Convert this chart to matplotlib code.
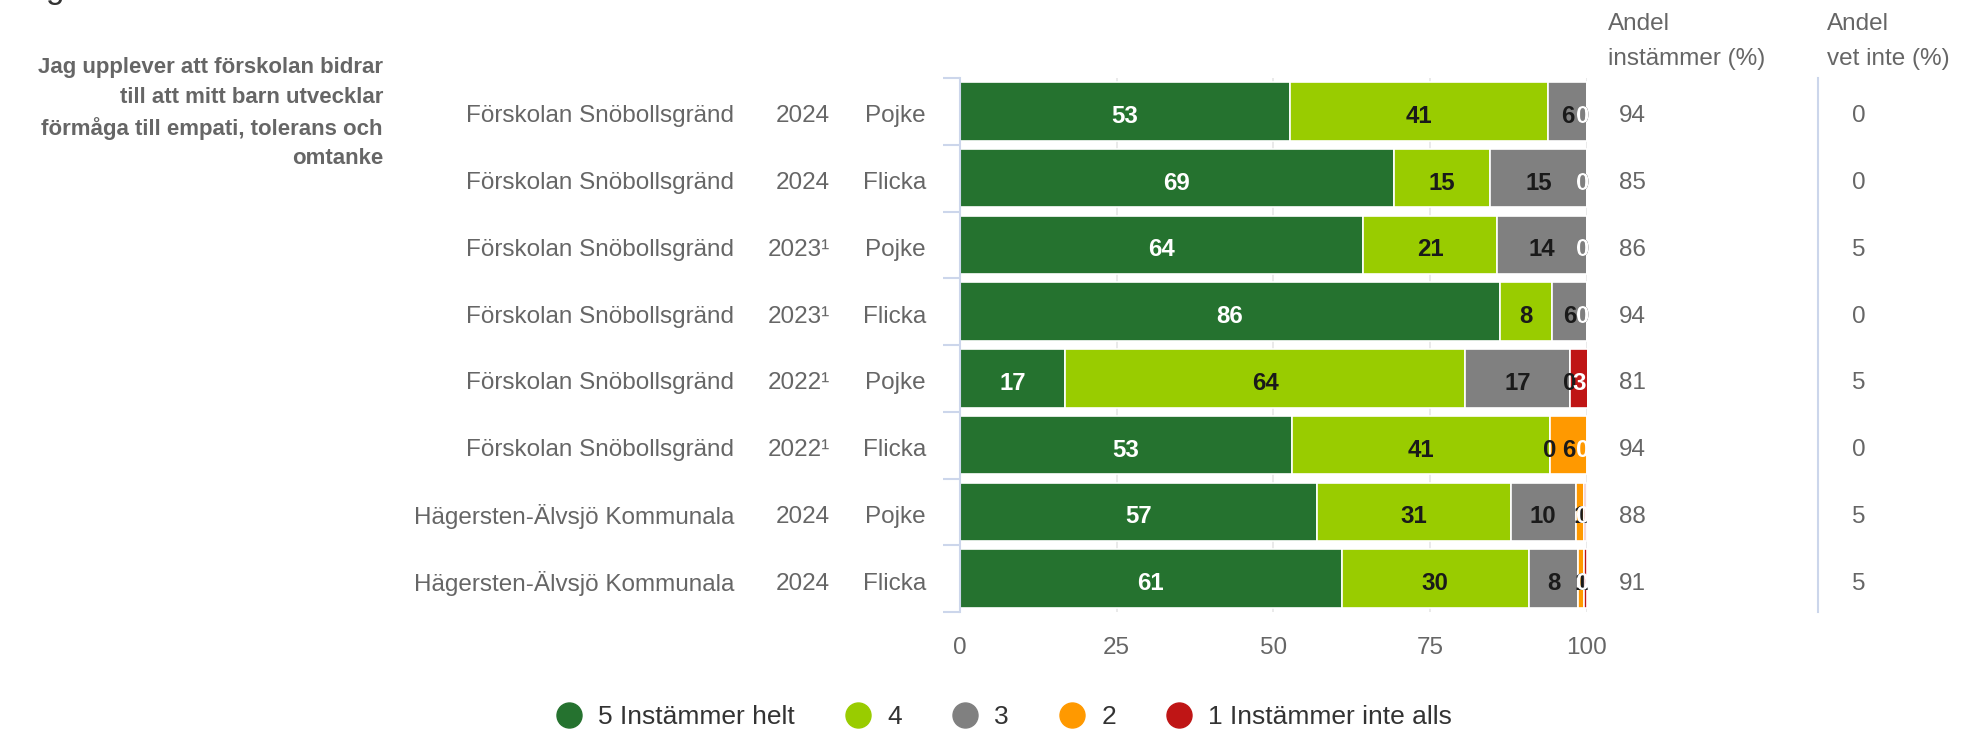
import matplotlib
matplotlib.use("Agg")
import matplotlib.pyplot as plt
import numpy as np
from matplotlib.lines import Line2D
from matplotlib.transforms import blended_transform_factory

plt.rcParams["font.family"] = ["Liberation Sans", "DejaVu Sans"]

# Data
question = "Jag upplever att förskolan bidrar\ntill att mitt barn utvecklar\nförmåga till empati, tolerans och\nomtanke"
units = ["Förskolan Snöbollsgränd"] * 6 + ["Hägersten-Älvsjö Kommunala"] * 2
years = ["2024", "2024", "2023¹", "2023¹", "2022¹", "2022¹", "2024", "2024"]
genders = ["Pojke", "Flicka"] * 4

series_names = ["5 Instämmer helt", "4", "3", "2", "1 Instämmer inte alls"]
s5 = [52.6, 69.2, 64.3, 86.1, 16.7, 52.9, 56.9, 60.9]
s4 = [41.2, 15.4, 21.4, 8.3, 63.9, 41.2, 30.9, 29.8]
s3 = [6.2, 15.4, 14.3, 5.6, 16.7, 0, 10.4, 7.9]
s2 = [0, 0, 0, 0, 0, 5.9, 1.3, 1.0]
s1 = [0, 0, 0, 0, 2.8, 0, 0.4, 0.4]

andel_instammer = [94, 85, 86, 94, 81, 94, 88, 91]
andel_vet_inte = [0, 0, 5, 0, 5, 0, 5, 5]

xticks = [0, 25, 50, 75, 100]

# Styles
colors = ["#25722f", "#99cc00", "#808080", "#ff9900", "#bf1515"]
label_colors = ["white", "#1a1a1a", "#1a1a1a", "#1a1a1a", "white"]
grey_text = "#666666"
axis_blue = "#ccd6eb"
fs = 17.5
dy = 0.075  # small downward shift so text sits like the reference

W, H = 1965, 732
fig = plt.figure(figsize=(W / 100, H / 100), dpi=100)

ax_left, ax_right = 960 / W, 1587 / W
ax_top, ax_bottom = 1 - 78 / H, 1 - 612 / H
ax = fig.add_axes([ax_left, ax_bottom, ax_right - ax_left, ax_top - ax_bottom])

y = np.arange(len(units))
left = np.zeros(len(units))
for vals, c, tc in zip([s5, s4, s3, s2, s1], colors, label_colors):
    vals = np.array(vals, dtype=float)
    ax.barh(y, vals, left=left, height=0.88, color=c, edgecolor="white",
            linewidth=1.2, zorder=2)
    for yi, l, v in zip(y, left, vals):
        xc = min(l + v / 2, 99.3)
        ax.text(xc, yi + dy, f"{v:.0f}", ha="center", va="center", color=tc,
                fontsize=17.3, fontweight="bold", zorder=4)
    left += vals

ax.set_xlim(0, 100)
ax.set_ylim(len(units) - 0.5, -0.5)
ax.set_xticks(xticks)
ax.set_xticklabels([str(t) for t in xticks])
ax.tick_params(axis="x", length=0, pad=18, labelsize=fs, labelcolor=grey_text)
ax.set_yticks(np.arange(-0.5, len(units), 1))
ax.set_yticklabels([])
ax.tick_params(axis="y", length=12, width=1.5, color=axis_blue)
ax.xaxis.grid(True, color="#e6e6e6", linewidth=1.2, zorder=0)
ax.set_axisbelow(True)
for side in ["top", "right", "bottom"]:
    ax.spines[side].set_visible(False)
ax.spines["left"].set_color(axis_blue)
ax.spines["left"].set_linewidth(1.5)

# Row labels
tr = blended_transform_factory(fig.transFigure, ax.transData)
for yi, u, yr, g in zip(y, units, years, genders):
    fig.text(734 / W, yi + dy, u, transform=tr, ha="right", va="center",
             fontsize=fs, color=grey_text)
    fig.text(830 / W, yi + dy, yr, transform=tr, ha="right", va="center",
             fontsize=fs, color=grey_text)
    fig.text(926 / W, yi + dy, g, transform=tr, ha="right", va="center",
             fontsize=fs, color=grey_text)

# Right-hand columns
for yi, a, v in zip(y, andel_instammer, andel_vet_inte):
    fig.text(1619 / W, yi + dy, str(a), transform=tr, ha="left", va="center",
             fontsize=fs, color=grey_text)
    fig.text(1852 / W, yi + dy, str(v), transform=tr, ha="left", va="center",
             fontsize=fs, color=grey_text)

fig.text(1608 / W, 1 - 24 / H, "Andel", ha="left", va="center", fontsize=fs, color=grey_text)
fig.text(1608 / W, 1 - 59 / H, "instämmer (%)", ha="left", va="center", fontsize=fs, color=grey_text)
fig.text(1827 / W, 1 - 24 / H, "Andel", ha="left", va="center", fontsize=fs, color=grey_text)
fig.text(1827 / W, 1 - 59 / H, "vet inte (%)", ha="left", va="center", fontsize=fs, color=grey_text)
fig.add_artist(Line2D([1818 / W, 1818 / W], [ax_bottom, ax_top], transform=fig.transFigure,
                      color=axis_blue, linewidth=1.5))

# Question text
fig.text(383 / W, 1 - 57.5 / H, question, ha="right", va="top", fontsize=16,
         fontweight="bold", color="#666666", linespacing=1.52)

# Cut-off title fragment at the top edge
fig.text(46 / W, 1 + 2 / H, "g", ha="left", va="baseline", fontsize=24, color="#333333")

# Legend
handles = [Line2D([], [], marker="o", linestyle="", markersize=18, color=c) for c in colors]
fig.legend(handles, series_names, loc="center", bbox_to_anchor=(1004 / W, 1 - 717 / H),
           ncol=5, frameon=False, fontsize=19, handlelength=1.0, handletextpad=0.6,
           columnspacing=1.9, labelcolor="#333333", borderaxespad=0, borderpad=0)

fig.savefig("out.png", dpi=100)
